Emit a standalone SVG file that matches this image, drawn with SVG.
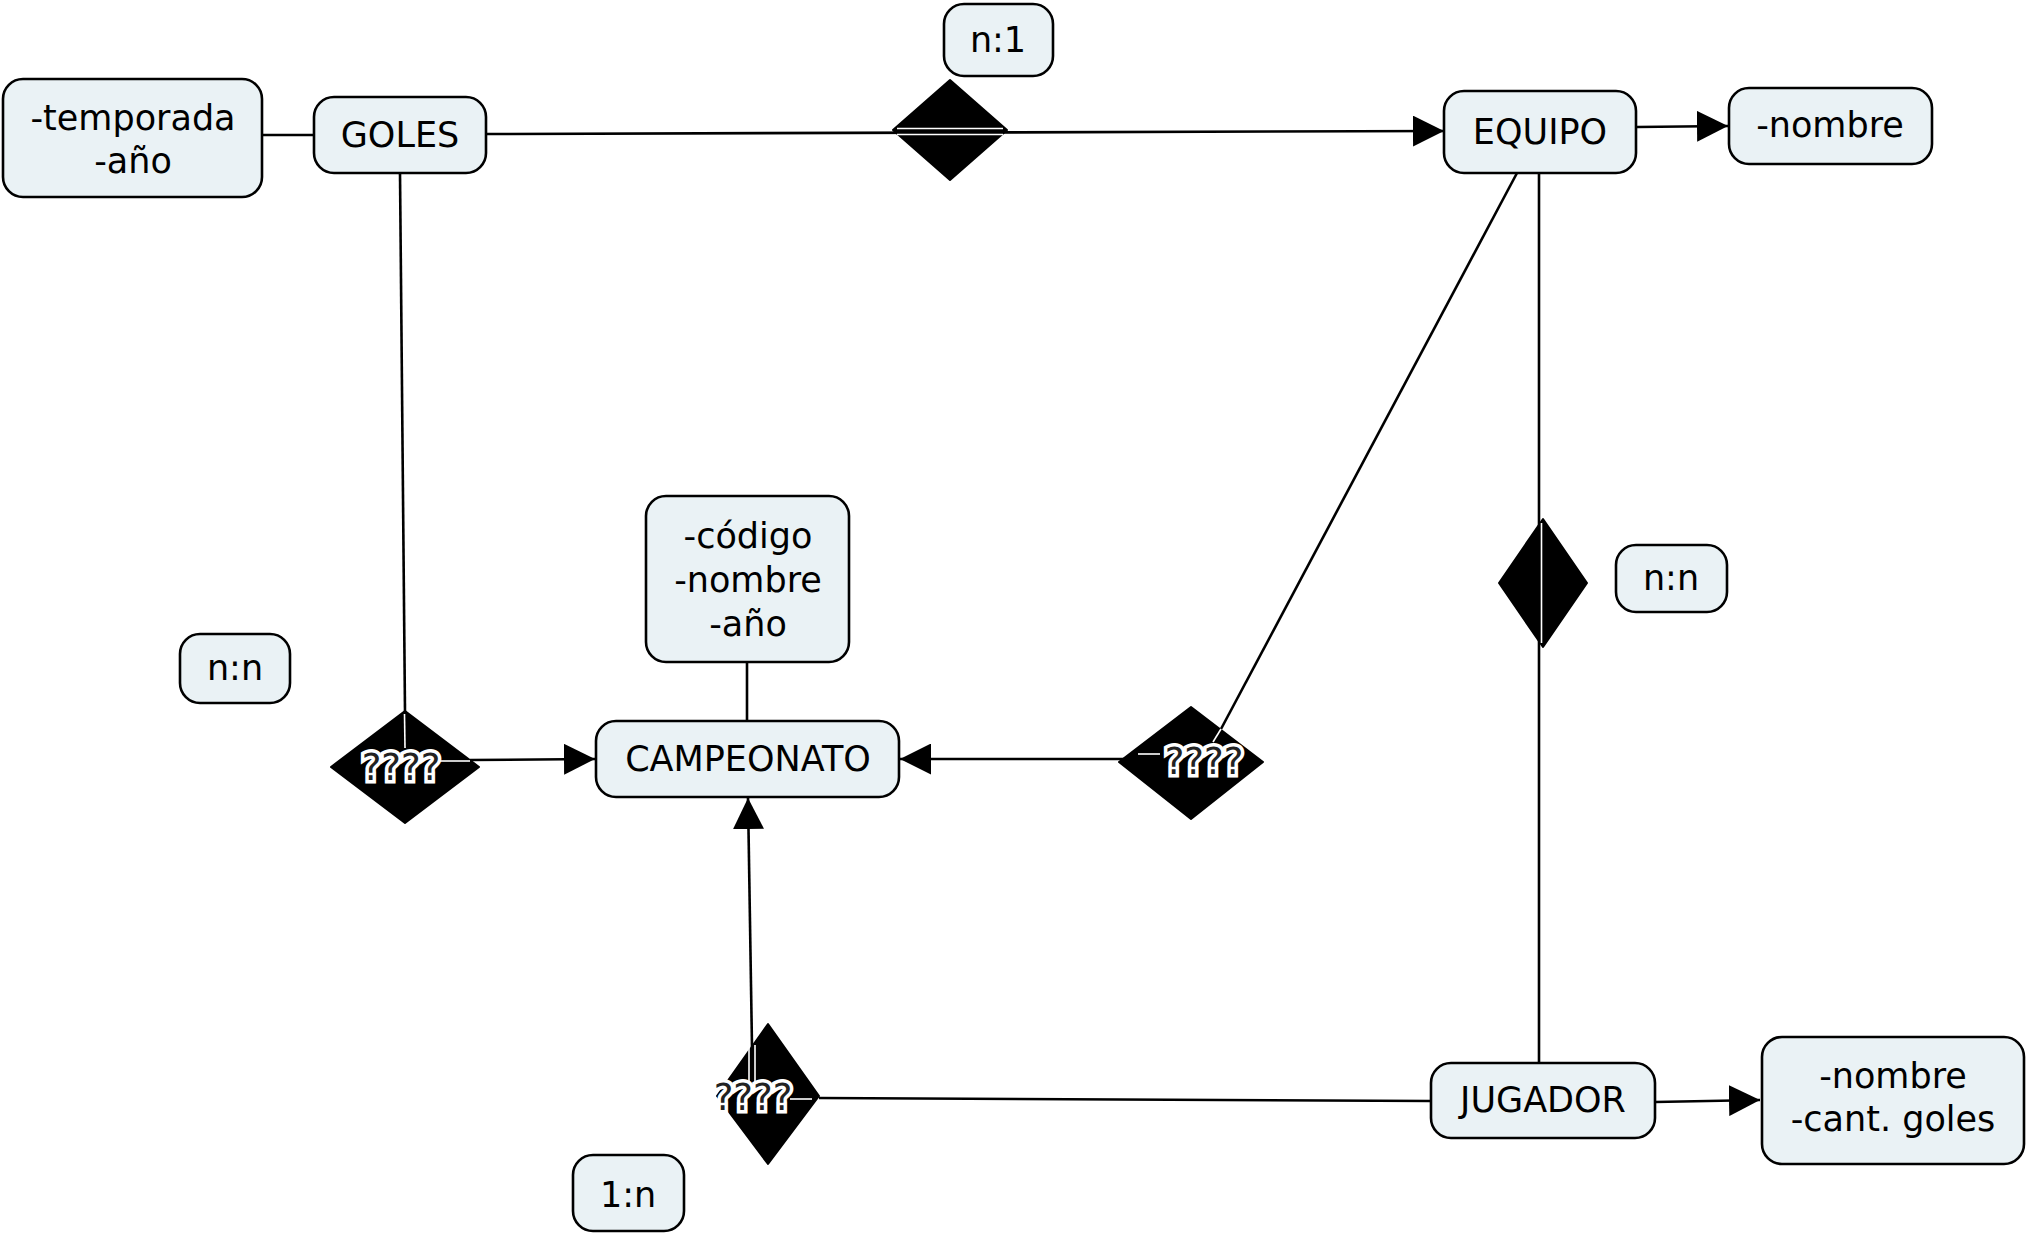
<svg xmlns="http://www.w3.org/2000/svg" width="2031" height="1238" viewBox="0 0 2031 1238">
<style>
.box{fill:#EAF2F5;stroke:#000;stroke-width:2.6}
.t{font-family:"DejaVu Sans",Verdana,sans-serif;font-size:35px;text-anchor:middle;fill:#000}
.c{stroke:#000;stroke-width:2.6;fill:none}
.d{fill:#000;stroke:#000;stroke-width:2;stroke-linejoin:round}
.q{font-family:"DejaVu Sans",Verdana,sans-serif;font-size:37px;text-anchor:middle;fill:#222;stroke:#fff;stroke-width:7;paint-order:stroke;stroke-linejoin:miter}
.w{stroke:#fff;stroke-width:1.6;fill:none}
</style>
<defs>
<marker id="ah" viewBox="0 0 10 10" refX="10" refY="5" markerWidth="31" markerHeight="31" markerUnits="userSpaceOnUse" orient="auto">
<path d="M0,0 L10,5 L0,10 z" fill="#000"/>
</marker>
</defs>
<rect width="2031" height="1238" fill="#fff"/>
<g id="connectors">
<line class="c" x1="263" y1="135" x2="314" y2="135"/>
<line class="c" x1="487" y1="134" x2="1444" y2="131" marker-end="url(#ah)"/>
<line class="c" x1="1637" y1="127" x2="1728" y2="126" marker-end="url(#ah)"/>
<line class="c" x1="400" y1="173" x2="405" y2="712"/>
<line class="c" x1="470" y1="760" x2="595" y2="759" marker-end="url(#ah)"/>
<line class="c" x1="747" y1="662" x2="747" y2="721"/>
<line class="c" x1="1517" y1="173" x2="1221" y2="729"/>
<line class="c" x1="1124" y1="759" x2="900" y2="759" marker-end="url(#ah)"/>
<line class="c" x1="1539" y1="173" x2="1539" y2="1063"/>
<line class="c" x1="752" y1="1047" x2="748" y2="798" marker-end="url(#ah)"/>
<line class="c" x1="819" y1="1098" x2="1431" y2="1101"/>
<line class="c" x1="1655" y1="1102" x2="1760" y2="1100" marker-end="url(#ah)"/>
</g>
<g id="attr-goles">
<rect class="box" x="3" y="79" width="259" height="118" rx="20"/>
<text class="t" x="133" y="130">-temporada</text>
<text class="t" x="133" y="173">-año</text>
</g>
<g id="goles">
<rect class="box" x="314" y="97" width="172" height="76" rx="20"/>
<text class="t" x="400" y="147">GOLES</text>
</g>
<g id="card-n1">
<rect class="box" x="944" y="4" width="109" height="72" rx="20"/>
<text class="t" x="998" y="52">n:1</text>
</g>
<g id="rel-goles-equipo">
<polygon class="d" points="950,80 1007,130 950,180 893,130"/>
<line class="w" x1="897" y1="128.5" x2="1003" y2="128.5"/>
<line class="w" x1="897" y1="134.5" x2="1003" y2="134.5"/>
</g>
<g id="equipo">
<rect class="box" x="1444" y="91" width="192" height="82" rx="20"/>
<text class="t" x="1540" y="144">EQUIPO</text>
</g>
<g id="attr-equipo">
<rect class="box" x="1729" y="88" width="203" height="76" rx="20"/>
<text class="t" x="1830" y="137">-nombre</text>
</g>
<g id="card-nn-left">
<rect class="box" x="180" y="634" width="110" height="69" rx="20"/>
<text class="t" x="235" y="680">n:n</text>
</g>
<g id="attr-campeonato">
<rect class="box" x="646" y="496" width="203" height="166" rx="20"/>
<text class="t" x="748" y="548">-código</text>
<text class="t" x="748" y="592">-nombre</text>
<text class="t" x="748" y="636">-año</text>
</g>
<g id="campeonato">
<rect class="box" x="596" y="721" width="303" height="76" rx="20"/>
<text class="t" x="748" y="771">CAMPEONATO</text>
</g>
<g id="rel-goles-campeonato">
<polygon class="d" points="405,711 479,767 405,823 331,767"/>
<line class="w" x1="404.5" y1="714" x2="405" y2="748"/>
<line class="w" x1="440" y1="761" x2="470" y2="761"/>
<text class="q" x="401" y="780">????</text>
</g>
<g id="rel-equipo-campeonato">
<polygon class="d" points="1191,707 1263,762 1191,819 1119,762"/>
<line class="w" x1="1221" y1="729" x2="1213" y2="742"/>
<line class="w" x1="1138" y1="754" x2="1160" y2="754"/>
<text class="q" x="1204" y="774">????</text>
</g>
<g id="rel-equipo-jugador">
<polygon class="d" points="1543,519 1587,583 1543,647 1499,583"/>
<line class="w" x1="1541.5" y1="523" x2="1541.5" y2="643"/>
</g>
<g id="card-nn-right">
<rect class="box" x="1616" y="545" width="111" height="67" rx="20"/>
<text class="t" x="1671" y="590">n:n</text>
</g>
<g id="rel-jugador-campeonato">
<polygon class="d" points="768,1024 819,1096 768,1164 717,1096"/>
<line class="w" x1="749" y1="1045" x2="749" y2="1082"/>
<line class="w" x1="755" y1="1045" x2="755" y2="1082"/>
<line class="w" x1="790" y1="1099" x2="812" y2="1099"/>
<text class="q" x="753" y="1110">????</text>
</g>
<g id="jugador">
<rect class="box" x="1431" y="1063" width="224" height="75" rx="20"/>
<text class="t" x="1543" y="1112">JUGADOR</text>
</g>
<g id="attr-jugador">
<rect class="box" x="1762" y="1037" width="262" height="127" rx="20"/>
<text class="t" x="1893" y="1088">-nombre</text>
<text class="t" x="1893" y="1131">-cant. goles</text>
</g>
<g id="card-1n">
<rect class="box" x="573" y="1155" width="111" height="76" rx="20"/>
<text class="t" x="628" y="1207">1:n</text>
</g>
</svg>
